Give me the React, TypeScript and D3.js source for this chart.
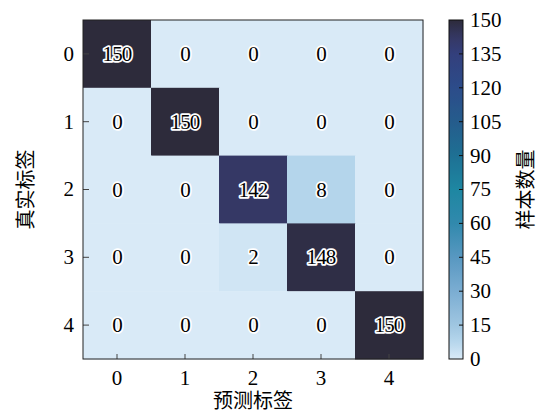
import React from "react";
import * as d3 from "d3";

// Confusion matrix: rows = true label, columns = predicted label
const classes = ["0", "1", "2", "3", "4"];
const matrix: number[][] = [
  [150, 0, 0, 0, 0],
  [0, 150, 0, 0, 0],
  [0, 0, 142, 8, 0],
  [0, 0, 2, 148, 0],
  [0, 0, 0, 0, 150],
];
const colorbarTicks = [0, 15, 30, 45, 60, 75, 90, 105, 120, 135, 150];
const xTitle = "预测标签";
const yTitle = "真实标签";
const cbTitle = "样本数量";

// Ice-like sequential colormap (light blue -> teal -> navy -> near black)
const cmapStops = [0, 0.05, 0.1, 0.2, 0.3, 0.4, 0.5, 0.6, 0.7, 0.8, 0.9, 0.95, 1];
const cmapColors = [
  "#d9eaf7",
  "#b6d6ec",
  "#9fc6e1",
  "#7badd2",
  "#5898c1",
  "#3189ad",
  "#1e87a2",
  "#1e7094",
  "#255c8c",
  "#2c4c8a",
  "#333f7c",
  "#353763",
  "#2d2b3b",
];

const W = 542;
const H = 414;
const plot = { left: 83, right: 423, top: 20, bottom: 359 };
const cb = { left: 449, right: 463 };
const serif = "'Liberation Serif', 'Times New Roman', serif";
const cjk = "'Noto Sans CJK SC', sans-serif";

export default function App() {
  const vmax = 150;
  const color = d3
    .scaleLinear<string>()
    .domain(cmapStops.map((s) => s * vmax))
    .range(cmapColors)
    .interpolate(d3.interpolateRgb)
    .clamp(true);

  const x = d3.scaleBand<string>().domain(classes).range([plot.left, plot.right]);
  const y = d3.scaleBand<string>().domain(classes).range([plot.top, plot.bottom]);
  const cbScale = d3.scaleLinear().domain([0, vmax]).range([plot.bottom, plot.top]);

  const gradStops = d3.range(0, 1.0001, 0.02);

  return (
    <svg
      width={W}
      height={H}
      style={{ position: "absolute", left: 0, top: 0, background: "#fff" }}
    >
      <defs>
        <linearGradient id="cbGrad" x1="0" y1="1" x2="0" y2="0">
          {gradStops.map((t, i) => (
            <stop key={i} offset={t} stopColor={color(t * vmax)} />
          ))}
        </linearGradient>
      </defs>

      {/* heatmap cells */}
      {matrix.map((row, i) =>
        row.map((v, j) => (
          <rect
            key={`c${i}-${j}`}
            x={x(classes[j])}
            y={y(classes[i])}
            width={x.bandwidth() + 0.5}
            height={y.bandwidth() + 0.5}
            fill={color(v)}
          />
        ))
      )}

      {/* cell annotations */}
      {matrix.map((row, i) =>
        row.map((v, j) => (
          <text
            key={`t${i}-${j}`}
            x={x(classes[j])! + x.bandwidth() / 2}
            y={y(classes[i])! + y.bandwidth() / 2}
            dy="0.34em"
            textAnchor="middle"
            fontFamily={serif}
            fontSize={21}
            letterSpacing={-0.8}
            fill="#000"
            stroke="#fff"
            strokeWidth={3.4}
            strokeLinejoin="round"
            paintOrder="stroke"
          >
            {v}
          </text>
        ))
      )}

      {/* inward ticks */}
      {classes.map((c) => (
        <line
          key={`xt${c}`}
          x1={x(c)! + x.bandwidth() / 2}
          x2={x(c)! + x.bandwidth() / 2}
          y1={plot.bottom}
          y2={plot.bottom - 5}
          stroke="#444"
          strokeWidth={1}
        />
      ))}
      {classes.map((c) => (
        <line
          key={`yt${c}`}
          x1={plot.left}
          x2={plot.left + 6}
          y1={y(c)! + y.bandwidth() / 2}
          y2={y(c)! + y.bandwidth() / 2}
          stroke="#444"
          strokeWidth={1}
        />
      ))}

      {/* frame */}
      <rect
        x={plot.left}
        y={plot.top}
        width={plot.right - plot.left}
        height={plot.bottom - plot.top}
        fill="none"
        stroke="#222"
        strokeWidth={1}
      />

      {/* tick labels */}
      {classes.map((c) => (
        <text
          key={`xl${c}`}
          x={x(c)! + x.bandwidth() / 2}
          y={385}
          textAnchor="middle"
          fontFamily={serif}
          fontSize={21}
          fill="#000"
        >
          {c}
        </text>
      ))}
      {classes.map((c) => (
        <text
          key={`yl${c}`}
          x={74}
          y={y(c)! + y.bandwidth() / 2}
          dy="0.33em"
          textAnchor="end"
          fontFamily={serif}
          fontSize={21}
          fill="#000"
        >
          {c}
        </text>
      ))}

      {/* axis titles */}
      <text
        x={(plot.left + plot.right) / 2}
        y={408}
        textAnchor="middle"
        fontFamily={cjk}
        fontSize={20}
        fill="#000"
      >
        {xTitle}
      </text>
      <text
        transform={`translate(33, ${(plot.top + plot.bottom) / 2}) rotate(-90)`}
        textAnchor="middle"
        fontFamily={cjk}
        fontSize={20}
        fill="#000"
      >
        {yTitle}
      </text>

      {/* colorbar */}
      <rect
        x={cb.left}
        y={plot.top}
        width={cb.right - cb.left}
        height={plot.bottom - plot.top}
        fill="url(#cbGrad)"
        stroke="#111"
        strokeWidth={1}
      />
      {colorbarTicks.map((t) => (
        <g key={`cb${t}`}>
          {t > 0 && t < vmax && (
            <line
              x1={cb.right - 4}
              x2={cb.right}
              y1={cbScale(t)}
              y2={cbScale(t)}
              stroke="#111"
              strokeWidth={1}
            />
          )}
          <text
            x={470}
            y={cbScale(t)}
            dy="0.33em"
            fontFamily={serif}
            fontSize={21}
            fill="#000"
          >
            {t}
          </text>
        </g>
      ))}
      <text
        transform={`translate(533, ${(plot.top + plot.bottom) / 2}) rotate(-90)`}
        textAnchor="middle"
        fontFamily={cjk}
        fontSize={20}
        fill="#000"
      >
        {cbTitle}
      </text>
    </svg>
  );
}
